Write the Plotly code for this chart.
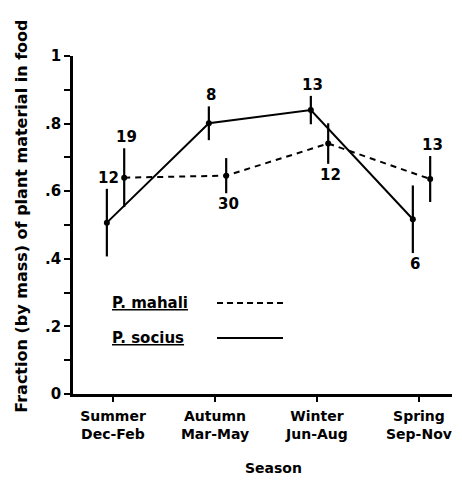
import plotly.graph_objects as go

seasons = ["Summer<br>Dec-Feb", "Autumn<br>Mar-May", "Winter<br>Jun-Aug", "Spring<br>Sep-Nov"]
season_idx = [0, 1, 2, 3]

socius_mean = [0.507, 0.801, 0.840, 0.517]
socius_err = [0.100, 0.050, 0.042, 0.100]
socius_n = [12, 8, 13, 6]
socius_n_pos = ["above", "above", "above", "below"]

mahali_mean = [0.640, 0.646, 0.741, 0.636]
mahali_err = [0.087, 0.052, 0.060, 0.068]
mahali_n = [19, 30, 12, 13]
mahali_n_pos = ["above", "below", "below", "above"]

ytick_vals = [0, 0.1, 0.2, 0.3, 0.4, 0.5, 0.6, 0.7, 0.8, 0.9, 1.0]
ytick_text = ["0", "", ".2", "", ".4", "", ".6", "", ".8", "", "1"]

FONT = "DejaVu Sans"
SOC_OFF = -0.06
MAH_OFF = 0.11

sx = [i + SOC_OFF for i in season_idx]
mx = [i + MAH_OFF for i in season_idx]

fig = go.Figure()
fig.add_trace(go.Scatter(
    x=mx, y=mahali_mean, mode="lines+markers",
    line=dict(color="black", width=2, dash="6px,5px"),
    marker=dict(color="black", size=6),
    error_y=dict(type="data", array=mahali_err, visible=True, color="black", thickness=2.2, width=0),
    showlegend=False))
fig.add_trace(go.Scatter(
    x=sx, y=socius_mean, mode="lines+markers",
    line=dict(color="black", width=2),
    marker=dict(color="black", size=6),
    error_y=dict(type="data", array=socius_err, visible=True, color="black", thickness=2.2, width=0),
    showlegend=False))

annos = []
def add_n(xs, means, errs, ns, poss):
    for x, m, e, n, p in zip(xs, means, errs, ns, poss):
        if p == "above":
            annos.append(dict(x=x, y=m + e, text=f"<b>{n}</b>", showarrow=False,
                              yanchor="bottom", yshift=0, xshift=2,
                              font=dict(family=FONT, size=15, color="black")))
        else:
            annos.append(dict(x=x, y=m - e, text=f"<b>{n}</b>", showarrow=False,
                              yanchor="top", yshift=0, xshift=2,
                              font=dict(family=FONT, size=15, color="black")))

add_n(sx, socius_mean, socius_err, socius_n, socius_n_pos)
add_n(mx, mahali_mean, mahali_err, mahali_n, mahali_n_pos)

# legend
annos.append(dict(xref="paper", yref="y", x=0.098, y=0.269, xanchor="left", text="<b><u>P. mahali</u></b>",
                  showarrow=False, font=dict(family=FONT, size=15, color="black")))
annos.append(dict(xref="paper", yref="y", x=0.098, y=0.166, xanchor="left", text="<b><u>P. socius</u></b>",
                  showarrow=False, font=dict(family=FONT, size=15, color="black")))
shapes = [
    dict(type="line", xref="paper", yref="y", x0=0.380, x1=0.554, y0=0.269, y1=0.269,
         line=dict(color="black", width=2, dash="6px,4px")),
    dict(type="line", xref="paper", yref="y", x0=0.380, x1=0.554, y0=0.166, y1=0.166,
         line=dict(color="black", width=2)),
]

# axis titles
annos.append(dict(xref="paper", yref="paper", x=0.530, y=-0.219, xanchor="center", yanchor="middle",
                  text="<b>Season</b>", showarrow=False,
                  font=dict(family=FONT, size=14, color="black")))
annos.append(dict(xref="paper", yref="paper", x=-0.135, y=0.527, xanchor="center", yanchor="middle",
                  textangle=-90,
                  text="<b>Fraction (by mass) of plant material in food</b>", showarrow=False,
                  font=dict(family=FONT, size=16, color="black")))

# the page body adds an 8px offset; margins compensate so the plot area lands at x 73-452, y 56-394
fig.update_layout(
    width=462, height=480,
    margin=dict(l=65, r=18, t=48, b=94, autoexpand=False),
    plot_bgcolor="white", paper_bgcolor="white",
    annotations=annos, shapes=shapes,
    xaxis=dict(range=[-0.392, 3.324], tickvals=season_idx, ticktext=[f"<b>{s.replace('<br>', '</b><br><b>')}</b>" for s in seasons],
               ticks="outside", ticklen=5, tickwidth=2, tickcolor="black", automargin=False,
               ticklabelstandoff=2,
               showline=True, linewidth=2.5, linecolor="black", showgrid=False, zeroline=False,
               tickfont=dict(family=FONT, size=14, color="black")),
    yaxis=dict(range=[0, 1], tickvals=ytick_vals, ticktext=[f"<b>{t}</b>" for t in ytick_text],
               ticks="outside", ticklen=6, tickwidth=2, tickcolor="black", automargin=False,
               showline=True, linewidth=2.5, linecolor="black", showgrid=False, zeroline=False,
               tickfont=dict(family=FONT, size=15, color="black")),
)

fig.write_html("out.html")
